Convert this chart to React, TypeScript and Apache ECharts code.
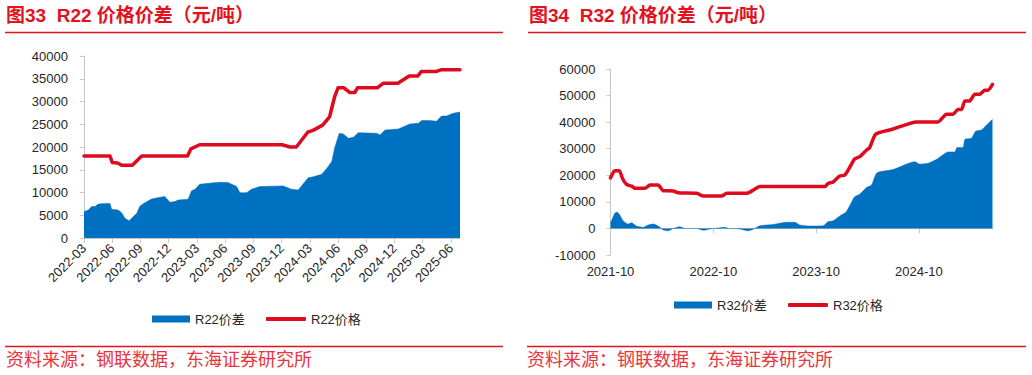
import React, { useEffect, useRef } from "react";
import * as echarts from "echarts";

// ---------- tick labels ----------
const leftTickLabels = [
  "2022-03", "2022-06", "2022-09", "2022-12", "2023-03", "2023-06", "2023-09",
  "2023-12", "2024-03", "2024-06", "2024-09", "2024-12", "2025-03", "2025-06",
];
const rightTickLabels = ["2021-10", "2022-10", "2023-10", "2024-10"];

// ---------- R22 ----------
const r22SpreadDates = [
  "2022-03-01", "2022-03-15", "2022-03-25", "2022-04-06", "2022-04-16", "2022-05-08", "2022-05-24",
  "2022-05-29", "2022-06-20", "2022-07-01", "2022-07-12", "2022-07-25", "2022-08-08", "2022-08-19",
  "2022-08-29", "2022-09-15", "2022-10-06", "2022-11-03", "2022-11-19", "2022-12-05", "2022-12-21",
  "2023-01-01", "2023-02-03", "2023-02-14", "2023-02-25", "2023-03-10", "2023-04-02", "2023-05-14",
  "2023-06-10", "2023-07-08", "2023-07-18", "2023-08-09", "2023-08-25", "2023-09-21", "2023-12-06",
  "2024-01-03", "2024-01-24", "2024-02-26", "2024-03-12", "2024-04-09", "2024-04-25", "2024-05-11",
  "2024-05-21", "2024-06-05", "2024-06-18", "2024-07-04", "2024-07-20", "2024-08-06", "2024-10-04",
  "2024-10-15", "2024-10-31", "2024-12-13", "2025-01-20", "2025-02-17", "2025-02-28", "2025-03-24",
  "2025-04-15", "2025-05-01", "2025-05-17", "2025-06-08", "2025-06-30",
];
const r22Spread = [
  5800, 6150, 6900, 6900, 7450, 7600, 7600,
  6300, 6150, 5550, 4300, 3800, 4700, 5400,
  7000, 7750, 8550, 8950, 9100, 7850, 8000,
  8350, 8500, 10400, 10700, 11800, 12000, 12250,
  12200, 11300, 9950, 9950, 10700, 11300, 11450,
  10700, 10550, 13250, 13450, 14000, 15300, 16800,
  20000, 23000, 22850, 21900, 22150, 23150, 23000,
  22650, 23750, 23950, 25050, 25200, 25800, 25800,
  25650, 26800, 26800, 27400, 27700,
];
const r22PriceDates = [
  "2022-03-01", "2022-05-24", "2022-06-01", "2022-06-18", "2022-07-01", "2022-08-05", "2022-09-05",
  "2023-02-01", "2023-02-12", "2023-03-10", "2023-12-03", "2023-12-28", "2024-01-18", "2024-02-25",
  "2024-03-10", "2024-04-12", "2024-05-04", "2024-05-20", "2024-06-01", "2024-06-20", "2024-07-08",
  "2024-07-25", "2024-08-03", "2024-10-06", "2024-10-25", "2024-12-12", "2025-01-18", "2025-02-15",
  "2025-02-27", "2025-04-15", "2025-05-01", "2025-06-30",
];
const r22Price = [
  18000, 18000, 16600, 16500, 16000, 16000, 18000,
  18000, 19600, 20500, 20500, 20000, 20000, 23300,
  23600, 24800, 26600, 31000, 33000, 33000, 32000,
  32000, 33000, 33000, 34000, 34000, 35600, 35600,
  36600, 36600, 37000, 37000,
];

// ---------- R32 ----------
const r32SpreadDates = [
  "2021-10-01", "2021-10-16", "2021-10-24", "2021-11-04", "2021-11-15", "2021-12-03", "2021-12-15",
  "2022-01-02", "2022-01-26", "2022-02-13", "2022-03-01", "2022-03-18", "2022-04-06", "2022-04-23",
  "2022-05-11", "2022-06-04", "2022-06-21", "2022-08-03", "2022-08-26", "2022-09-19", "2022-10-07",
  "2022-11-12", "2022-11-24", "2023-01-04", "2023-02-03", "2023-02-21", "2023-03-14", "2023-05-01",
  "2023-06-18", "2023-07-17", "2023-08-04", "2023-09-09", "2023-10-26", "2023-11-13", "2023-12-01",
  "2023-12-24", "2024-01-17", "2024-02-16", "2024-03-04", "2024-03-28", "2024-04-15", "2024-05-04",
  "2024-07-01", "2024-09-17", "2024-10-04", "2024-11-03", "2024-12-03", "2025-01-14", "2025-02-07",
  "2025-02-15", "2025-03-06", "2025-03-12", "2025-04-05", "2025-04-20", "2025-05-10", "2025-05-28",
  "2025-06-19",
];
const r32Spread = [
  2000, 5700, 6200, 5000, 2900, 1650, 2100,
  900, 400, 1300, 1650, 900, -600, -900,
  0, 650, 0, 0, -700, -200, 0,
  400, 0, -200, -900, -300, 1000, 1500,
  2300, 2300, 1300, 900, 1000, 2500, 2900,
  4700, 6300, 11900, 12900, 15400, 16300, 20900,
  22200, 25100, 24200, 24500, 26000, 28800, 28800,
  30500, 30500, 33500, 33900, 36600, 37000, 38900,
  41100,
];
const r32PriceDates = [
  "2021-10-01", "2021-10-16", "2021-11-02", "2021-11-13", "2021-11-27", "2021-12-15", "2021-12-27",
  "2022-02-02", "2022-02-19", "2022-03-18", "2022-04-06", "2022-05-11", "2022-05-28", "2022-08-03",
  "2022-08-26", "2022-10-30", "2022-11-18", "2023-01-28", "2023-02-21", "2023-03-14", "2023-11-02",
  "2023-11-13", "2023-12-01", "2023-12-24", "2024-01-12", "2024-01-30", "2024-02-16", "2024-03-04",
  "2024-03-28", "2024-04-09", "2024-04-30", "2024-07-01", "2024-09-23", "2024-12-08", "2025-01-08",
  "2025-02-01", "2025-02-18", "2025-03-01", "2025-03-12", "2025-03-29", "2025-04-17", "2025-05-04",
  "2025-05-22", "2025-06-03", "2025-06-19",
];
const r32Price = [
  19000, 21700, 21700, 18800, 16600, 15900, 15100,
  15100, 16300, 16300, 14200, 14100, 13400, 13200,
  12200, 12200, 13200, 13200, 14400, 15800, 15800,
  16900, 17500, 19700, 20100, 23200, 26100, 27000,
  29500, 30400, 35500, 37400, 40100, 40100, 43000,
  43000, 44800, 44800, 48000, 48000, 50500, 50500,
  52000, 52000, 54200,
];

// ---------- helpers ----------
const monthIdx = (d: string, by: number, bm: number) => {
  const [y, m, dd] = d.split("-").map(Number);
  return (y - by) * 12 + (m - bm) + (dd - 1) / 30;
};
const pairs = (dates: string[], vals: number[], by: number, bm: number) =>
  dates.map((d, i) => [monthIdx(d, by, bm), vals[i]]);

const BLUE = "#0070C0";
const RED = "#DE0A1E";
const TITLE_RED = "#E3121F";
const SRC_RED = "#E8353E";
const AXIS = "#C8C8C8";
const TXT = "#262626";
const FONT = '"Liberation Sans", Arial, "Noto Sans CJK SC", sans-serif';

export default function App() {
  const ref = useRef<HTMLDivElement>(null);

  useEffect(() => {
    if (!ref.current) return;
    const chart = echarts.init(ref.current, null, { renderer: "svg", width: 1032, height: 375 });

    const leftMax = monthIdx(r22PriceDates[r22PriceDates.length - 1], 2022, 3);
    const rightMax = monthIdx(r32PriceDates[r32PriceDates.length - 1], 2021, 10);
    const leftTickVals = leftTickLabels.map((_, i) => i * 3);
    const rightTickVals = rightTickLabels.map((_, i) => i * 12);

    const labelStyle = { color: TXT, fontSize: 13, fontFamily: FONT };
    const legendBase = {
      padding: 0,
      selectedMode: false,
      textStyle: { color: TXT, fontSize: 13, fontFamily: FONT },
      itemGap: 20,
    };
    const plain = (v: number) => String(v);

    const option: any = {
      animation: false,
      backgroundColor: "#ffffff",
      grid: [
        { left: 84, top: 56, width: 376, height: 182, containLabel: false, outerBoundsMode: "none" },
        { left: 610.5, top: 69, width: 382, height: 186, containLabel: false, outerBoundsMode: "none" },
      ],
      xAxis: [
        {
          type: "value",
          gridIndex: 0,
          min: 0,
          max: leftMax,
          interval: 3,
          axisLine: { show: true, lineStyle: { color: AXIS, width: 1 } },
          axisTick: { show: true, length: 5, lineStyle: { color: AXIS }, customValues: leftTickVals },
          axisLabel: {
            ...labelStyle,
            rotate: 45,
            margin: 8,
            customValues: leftTickVals,
            formatter: (v: number) => leftTickLabels[Math.round(v / 3)] ?? "",
          },
          splitLine: { show: false },
        },
        {
          type: "value",
          gridIndex: 1,
          position: "bottom",
          min: 0,
          max: rightMax,
          interval: 12,
          axisLine: { show: false, onZero: false },
          axisTick: { show: false },
          axisLabel: {
            ...labelStyle,
            margin: 10,
            customValues: rightTickVals,
            formatter: (v: number) => rightTickLabels[Math.round(v / 12)] ?? "",
          },
          splitLine: { show: false },
        },
        {
          type: "value",
          gridIndex: 1,
          position: "bottom",
          min: 0,
          max: rightMax,
          interval: 12,
          axisLine: { show: true, onZero: true, lineStyle: { color: AXIS, width: 1 } },
          axisTick: { show: true, length: 5, lineStyle: { color: AXIS }, customValues: rightTickVals },
          axisLabel: { show: false },
          splitLine: { show: false },
        },
      ],
      yAxis: [
        {
          type: "value",
          gridIndex: 0,
          min: 0,
          max: 40000,
          interval: 5000,
          axisLine: { show: true, lineStyle: { color: AXIS, width: 1 } },
          axisTick: { show: true, length: 4, lineStyle: { color: AXIS } },
          axisLabel: { ...labelStyle, margin: 16, formatter: plain },
          splitLine: { show: false },
        },
        {
          type: "value",
          gridIndex: 1,
          min: -10000,
          max: 60000,
          interval: 10000,
          axisLine: { show: true, onZero: false, lineStyle: { color: AXIS, width: 1 } },
          axisTick: { show: true, length: 4, lineStyle: { color: AXIS } },
          axisLabel: { ...labelStyle, margin: 15, formatter: plain },
          splitLine: { show: false },
        },
      ],
      legend: [
        { ...legendBase, data: ["R22价差"], left: 152, top: 312.5, itemWidth: 38, itemHeight: 7, icon: "rect" },
        { ...legendBase, data: ["R22价格"], left: 266, top: 312.5, itemWidth: 40, itemHeight: 4, icon: "roundRect" },
        { ...legendBase, data: ["R32价差"], left: 674, top: 298.5, itemWidth: 38, itemHeight: 7, icon: "rect" },
        { ...legendBase, data: ["R32价格"], left: 788, top: 298.5, itemWidth: 40, itemHeight: 4, icon: "roundRect" },
      ],
      series: [
        {
          name: "R22价差",
          type: "line",
          xAxisIndex: 0,
          yAxisIndex: 0,
          data: pairs(r22SpreadDates, r22Spread, 2022, 3),
          symbol: "none",
          itemStyle: { color: BLUE },
          lineStyle: { width: 0.5, color: BLUE },
          areaStyle: { color: BLUE, opacity: 1 },
        },
        {
          name: "R22价格",
          type: "line",
          xAxisIndex: 0,
          yAxisIndex: 0,
          data: pairs(r22PriceDates, r22Price, 2022, 3),
          symbol: "none",
          itemStyle: { color: RED },
          lineStyle: { width: 3.5, color: RED, cap: "round", join: "round" },
        },
        {
          name: "R32价差",
          type: "line",
          xAxisIndex: 1,
          yAxisIndex: 1,
          data: pairs(r32SpreadDates, r32Spread, 2021, 10),
          symbol: "none",
          smooth: 0.2,
          itemStyle: { color: BLUE },
          lineStyle: { width: 0.5, color: BLUE },
          areaStyle: { color: BLUE, opacity: 1 },
        },
        {
          name: "R32价格",
          type: "line",
          xAxisIndex: 1,
          yAxisIndex: 1,
          data: pairs(r32PriceDates, r32Price, 2021, 10),
          symbol: "none",
          smooth: 0.2,
          itemStyle: { color: RED },
          lineStyle: { width: 3.5, color: RED, cap: "round", join: "round" },
        },
      ],
      graphic: [
        {
          type: "text",
          left: 6,
          top: 6,
          style: {
            text: "图33\u00a0\u00a0R22 价格价差（元/吨）",
            fill: TITLE_RED,
            fontSize: 19,
            fontWeight: "bold",
            fontFamily: FONT,
          },
        },
        {
          type: "text",
          left: 529,
          top: 6,
          style: {
            text: "图34\u00a0\u00a0R32 价格价差（元/吨）",
            fill: TITLE_RED,
            fontSize: 19,
            fontWeight: "bold",
            fontFamily: FONT,
          },
        },
        { type: "line", shape: { x1: 5, y1: 32.5, x2: 503, y2: 32.5 }, style: { stroke: TITLE_RED, lineWidth: 1.5 } },
        { type: "line", shape: { x1: 528, y1: 32.5, x2: 1026, y2: 32.5 }, style: { stroke: TITLE_RED, lineWidth: 1.5 } },
        { type: "line", shape: { x1: 5, y1: 346.5, x2: 503, y2: 346.5 }, style: { stroke: TITLE_RED, lineWidth: 1.5 } },
        { type: "line", shape: { x1: 527, y1: 346.5, x2: 1026, y2: 346.5 }, style: { stroke: TITLE_RED, lineWidth: 1.5 } },
        {
          type: "text",
          left: 6,
          top: 351,
          style: { text: "资料来源：钢联数据，东海证券研究所", fill: SRC_RED, fontSize: 18, fontFamily: FONT },
        },
        {
          type: "text",
          left: 527,
          top: 351,
          style: { text: "资料来源：钢联数据，东海证券研究所", fill: SRC_RED, fontSize: 18, fontFamily: FONT },
        },
      ],
    };

    chart.setOption(option);
    return () => chart.dispose();
  }, []);

  return (
    <div
      ref={ref}
      style={{ position: "absolute", left: 0, top: 0, width: 1032, height: 375, background: "#fff" }}
    />
  );
}
